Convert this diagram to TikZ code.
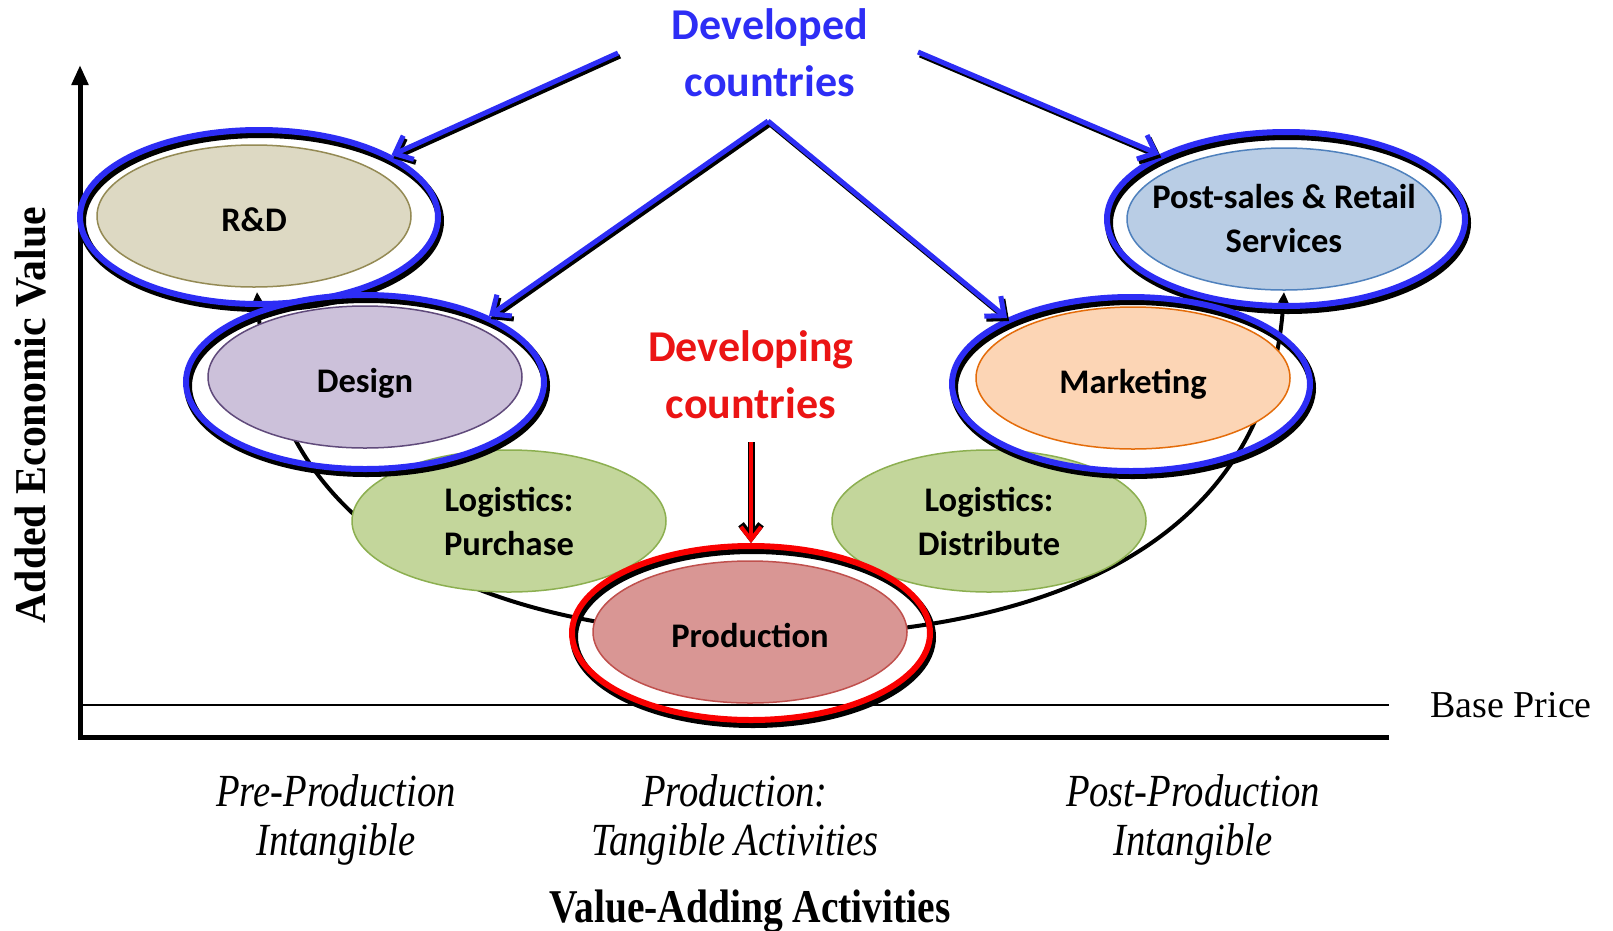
\documentclass[tikz,border=0pt]{standalone}
\usepackage{fontspec}
\setmainfont{Liberation Serif}
\newfontfamily\calfont{Carlito}
\usetikzlibrary{shapes.geometric,arrows.meta}
\definecolor{ringblue}{RGB}{45,45,245}
\definecolor{ringred}{RGB}{250,0,0}
\definecolor{txtred}{RGB}{235,20,20}
\definecolor{txtblue}{RGB}{45,45,245}
\definecolor{rdfill}{RGB}{221,217,195}
\definecolor{rddraw}{RGB}{148,138,84}
\definecolor{dsfill}{RGB}{204,193,218}
\definecolor{dsdraw}{RGB}{96,74,123}
\definecolor{lgfill}{RGB}{195,214,155}
\definecolor{lgdraw}{RGB}{140,175,80}
\definecolor{prfill}{RGB}{217,150,148}
\definecolor{prdraw}{RGB}{192,80,77}
\definecolor{mkfill}{RGB}{252,213,181}
\definecolor{mkdraw}{RGB}{228,108,10}
\definecolor{psfill}{RGB}{185,205,229}
\definecolor{psdraw}{RGB}{79,129,189}
\newcommand{\condtxt}[2][0.84]{\scalebox{#1}[1]{#2}}
\tikzset{
  ringbox/.style={ellipse, draw=ringblue, line width=6pt, minimum width=358pt, minimum height=174pt, inner sep=0pt},
  ringshadow/.style={ellipse, draw=black, line width=8pt, minimum width=358pt, minimum height=174pt, inner sep=0pt},
  actbox/.style={ellipse, line width=1.5pt, minimum width=314pt, minimum height=142pt, inner ysep=0pt, inner xsep=-70pt, align=center,
    font=\calfont\bfseries\fontsize{34.5}{44}\selectfont},
  oneline/.style={text height=30pt, text depth=0pt},
  devarrow/.style={draw=ringblue, line width=5pt, -{Straight Barb[length=15pt,width=26pt]}},
  devshadow/.style={draw=black, line width=5pt, -{Straight Barb[length=15pt,width=26pt]}, transform canvas={shift={(2pt,-3pt)}}},
  redarrow/.style={draw=ringred, line width=4pt, -{Straight Barb[length=13pt,width=20pt]}},
  redshadow/.style={draw=black, line width=7pt, -{Straight Barb[length=13pt,width=20pt]}},
  ucurve/.style={draw=black, line width=4pt, -{Triangle[length=11pt,width=10pt]}},
  axisline/.style={draw=black, line width=5pt},
  title/.style={align=center, font=\calfont\bfseries\fontsize{44}{57}\selectfont},
  btxt/.style={align=center, font=\itshape\fontsize{46}{49}\selectfont},
}
\begin{document}
\begin{tikzpicture}[x=1pt,y=-1pt]
\fill[white] (0,0) rectangle (1613,930);
\useasboundingbox (0,0) rectangle (1613,930);

% base price line and axes
\coordinate (b0) at (80,705);
\coordinate (b1) at (1389,705);
\draw[line width=1.5pt] (b0) -- (b1);
\coordinate (origin) at (80,737);
\coordinate (ytop) at (80,65);
\coordinate (xend) at (1389,737);
\draw[axisline, -{Triangle[length=20pt,width=16pt]}] (xend) -- (origin) -- (ytop);

% smile curve
\coordinate (uL) at (257,292);
\coordinate (uM) at (770,636);
\coordinate (uR) at (1284,292);
\draw[ucurve] (uM) .. controls (560,636) and (275,580) .. (uL);
\draw[ucurve] (uM) .. controls (981,636) and (1266,580) .. (uR);

% logistics
\node[actbox, draw=lgdraw, fill=lgfill] (lgp) at (509,521) {Logistics:\\Purchase};
\node[actbox, draw=lgdraw, fill=lgfill] (lgd) at (989,521) {Logistics:\\Distribute};

% R&D
\node[ringshadow] (rdsh) at (261,221) {};
\node[ringbox] (rdring) at (259,217) {};
\node[actbox, oneline, draw=rddraw, fill=rdfill] (rd) at (254,216) {R\&D};

% Post-sales
\node[ringshadow] (pssh) at (1288,223) {};
\node[ringbox] (psring) at (1286,219) {};
\node[actbox, draw=psdraw, fill=psfill] (ps) at (1284,219) {Post-sales \& Retail\\Services};

% Design
\node[ringshadow] (dssh) at (367,386) {};
\node[ringbox] (dsring) at (365,382) {};
\node[actbox, oneline, draw=dsdraw, fill=dsfill] (ds) at (365,377) {Design};

% Marketing
\node[ringshadow] (mksh) at (1133,388) {};
\node[ringbox] (mkring) at (1131,384) {};
\node[actbox, oneline, draw=mkdraw, fill=mkfill] (mk) at (1133,378) {Marketing};

% Production
\node[ringshadow] (prsh) at (753,637) {};
\node[ringbox, draw=ringred] (prring) at (751,633) {};
\node[actbox, oneline, draw=prdraw, fill=prfill] (pr) at (750,632) {Production};

% developed countries arrows
\coordinate (devL) at (618,53);
\coordinate (devR) at (918,52);
\coordinate (apex) at (768,121);
\draw[devshadow] (devL) -- (rdring.25.5);
\draw[devshadow] (devR) -- (psring.153);
\draw[devshadow] (apex) -- (dsring.28.3);
\draw[devshadow] (apex) -- (mkring.152);
\draw[devarrow] (devL) -- (rdring.25.5);
\draw[devarrow] (devR) -- (psring.153);
\draw[devarrow] (apex) -- (dsring.28.3);
\draw[devarrow] (apex) -- (mkring.152);

% developing countries arrow
\coordinate (devtop) at (751,442);
\draw[redshadow] (devtop) -- (prring.north);
\draw[redarrow] (devtop) -- (prring.north);

% titles
\node[title, text=txtblue] (developed) at (770,53) {Developed\\countries};
\node[title, text=txtred] (developing) at (751,375) {Developing\\countries};

% axis labels
\node[rotate=90, font=\bfseries\fontsize{44}{50}\selectfont] (ylab) at (31,415) {\condtxt[0.95]{Added Economic Value}};
\node[font=\fontsize{38}{44}\selectfont] (base) at (1511,705) {Base Price};
\node[btxt] (pre) at (336,820) {\condtxt{Pre-Production}\\\condtxt{Intangible}};
\node[btxt] (prod) at (735,820) {\condtxt{Production:}\\\condtxt{Tangible Activities}};
\node[btxt] (post) at (1193,820) {\condtxt{Post-Production}\\\condtxt{Intangible}};
\node[font=\bfseries\fontsize{47}{52}\selectfont] (vaa) at (750,911) {\condtxt[0.84]{Value-Adding Activities}};
\end{tikzpicture}
\end{document}
